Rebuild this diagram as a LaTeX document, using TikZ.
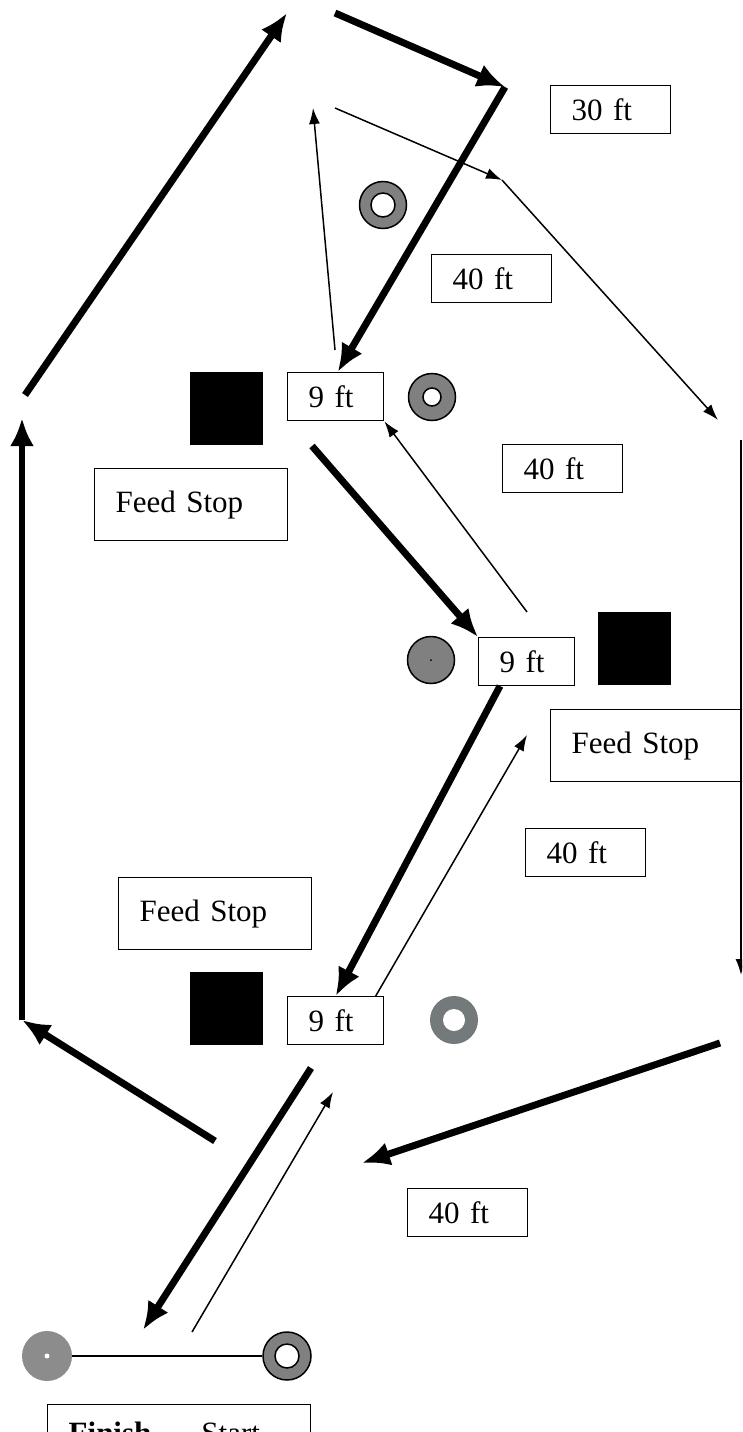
\documentclass[tikz,border=0pt]{standalone}
\usepackage{fontspec}
\setmainfont{Liberation Serif}
\usetikzlibrary{arrows.meta}
\definecolor{ringgray}{RGB}{128,128,128}
\definecolor{conegray}{RGB}{116,121,124}
\definecolor{discgray}{RGB}{140,140,140}
\begin{document}
\begin{tikzpicture}[x=1pt,y=-1pt,>=latex,
  run/.style={line width=7pt,-{Latex[length=28pt,width=24pt]}},
  walk/.style={line width=1.5pt,-{Latex[length=16pt,width=11pt]}},
  boxlbl/.style={draw,line width=1.4pt,anchor=north west,inner xsep=21pt,align=left,
    font=\fontsize{31}{36}\selectfont},
  dist/.style={boxlbl,text width=78pt,minimum height=48pt},
  gap/.style={boxlbl,text width=54pt,minimum height=48pt},
  stopbox/.style={boxlbl,text width=151pt,minimum height=72pt},
  feed/.style={fill=black,anchor=north west,minimum size=73pt,inner sep=0pt},
  ring/.style={circle,draw,line width=1.5pt,fill=ringgray,minimum size=47pt,inner sep=0pt},
  hole/.style={circle,draw,line width=1.5pt,fill=white,minimum size=#1,inner sep=0pt},
  hole/.default=18pt]
\useasboundingbox (0,0) rectangle (742,1432);
\clip (0,0) rectangle (742,1432);

\node[dist] (d30) at (550,85) {30 ft};
\foreach \x/\y [count=\i] in {431/254,502/444,525/828,407/1188}
  \node[dist] (d\i) at (\x,\y) {40 ft};
\node[gap] (nine1) at (287,372) {9 ft};
\node[gap] (nine2) at (478,637) {9 ft};
\node[gap] (nine3) at (287,996) {9 ft};
\node[stopbox] (fs1) at (94,468) {Feed Stop};
\node[stopbox] (fs2) at (550,709) {Feed Stop};
\node[stopbox] (fs3) at (118,877) {Feed Stop};
\foreach \x/\y [count=\i] in {190/372,598/612,190/972}
  \node[feed] (sq\i) at (\x,\y) {};

% cones
\node[ring] (cone1) at (383,205) {};
\node[hole=24pt] (hole1) at (cone1) {};
\node[ring] (cone2) at (432,397) {};
\node[hole] (hole2) at (cone2) {};
\node[ring] (cone3) at (431,660) {};
\fill (cone3) circle (1pt);
\node[circle,fill=conegray,minimum size=48pt,inner sep=0pt] (cone4) at (454,1020) {};
\node[circle,fill=white,minimum size=22pt,inner sep=0pt] (hole4) at (cone4) {};
\node[circle,fill=discgray,minimum size=50pt,inner sep=0pt] (fin) at (47,1356) {};
\fill[white] (fin) circle (2.5pt);
\node[ring,minimum size=48pt] (sta) at (287,1356) {};
\node[hole=24pt] (hole5) at (sta) {};
\draw[line width=1.2pt] (fin) -- (sta);
\node[boxlbl,text width=221pt,minimum height=57pt] (line) at (47,1404)
  {\textbf{Finish}\hspace{50pt}Start};

\coordinate (p1) at (25,395);  \coordinate (p2) at (287,13);
\coordinate (p3) at (335,13);  \coordinate (p4) at (505,87);
\coordinate (p5) at (312,446); \coordinate (p6) at (500,686);
\coordinate (p7) at (215,1141);\coordinate (p8) at (22,1020);
\coordinate (p9) at (22,418);  \coordinate (p10) at (720,1043);
\coordinate (p11) at (362,1163);\coordinate (p12) at (311,1068);
\coordinate (p13) at (143,1330);

\draw[run] (p1) -- (p2);
\draw[run] (p3) -- (p4);
\draw[run] (p4) -- ([xshift=2pt]nine1.north);
\draw[run] (p5) -- (nine2.north west);
\draw[run] (p6) -- (nine3.north);
\draw[run] (p7) -- (p8);
\draw[run,line width=6pt] (p8) -- (p9);
\draw[run] (p10) -- (p11);
\draw[run] (p12) -- (p13);

\coordinate (q1) at (335,350); \coordinate (q2) at (313,108);
\coordinate (q3) at (335,108); \coordinate (q4) at (502,180);
\coordinate (q5) at (718,420); \coordinate (q6) at (527,612);
\coordinate (q7) at (527,735); \coordinate (q9) at (192,1332);
\coordinate (q10) at (333,1092);\coordinate (q11) at (741,440);
\coordinate (q12) at (741,975);

\draw[walk] (q1) -- (q2);
\draw[walk] (q3) -- (q4);
\draw[walk] (q4) -- (q5);
\draw[walk] (q6) -- (nine1.south east);
\draw[walk] ([xshift=40pt]nine3.north) -- (q7);
\draw[walk] (q9) -- (q10);
\draw[walk] (q11) -- (q12);

\end{tikzpicture}
\end{document}
